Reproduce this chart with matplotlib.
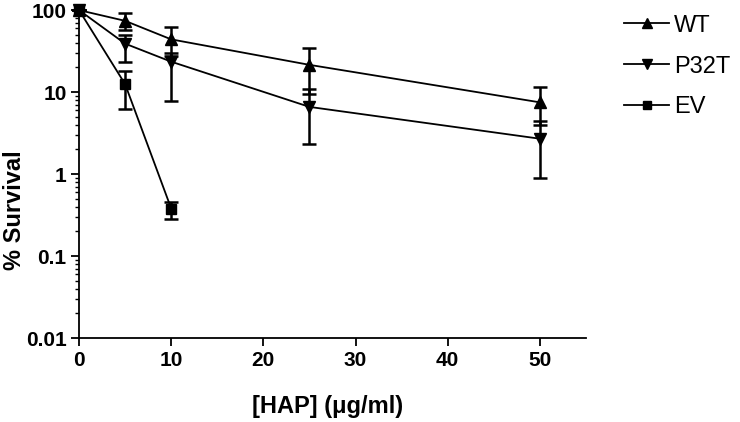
import matplotlib
matplotlib.use("Agg")
import matplotlib.pyplot as plt
import numpy as np

plt.rcParams["font.family"] = ["Liberation Sans", "DejaVu Sans"]

# HAP dose (ug/ml) and % survival
dose = [0, 5, 10, 25, 50]
dose_ev = [0, 5, 10]

wt = [100, 74, 44, 21.5, 7.5]
wt_low = [100, 58, 27.7, 9.4, 4.0]
wt_high = [100, 91, 63, 35, 11.5]

p32t = [100, 39, 23.5, 6.6, 2.7]
p32t_low = [100, 23.5, 7.8, 2.3, 0.9]
p32t_high = [100, 50, 29.7, 10.8, 4.5]

ev = [100, 12.5, 0.38]
ev_low = [100, 6.2, 0.28]
ev_high = [100, 18.2, 0.46]

series = [
    ("WT", dose, wt, wt_low, wt_high, "^", 9),
    ("P32T", dose, p32t, p32t_low, p32t_high, "v", 9),
    ("EV", dose_ev, ev, ev_low, ev_high, "s", 7),
]

fig = plt.figure(figsize=(7.4, 4.22), dpi=100)
ax = fig.add_axes([0.1068, 0.199, 0.685, 0.777])

for label, x, y, lo, hi, marker, ms in series:
    y = np.array(y)
    err = np.vstack([y - np.array(lo), np.array(hi) - y])
    ax.errorbar(x, y, yerr=err, fmt="none", ecolor="black", elinewidth=1.8,
                capsize=5, capthick=1.8, clip_on=False, zorder=3)
    ax.plot(x, y, color="black", linewidth=1.3, marker=marker, markersize=ms,
            label=label, clip_on=False, zorder=4)

ax.set_yscale("log")
ax.set_ylim(0.01, 100)
ax.set_xlim(0, 55)
ax.set_xticks([0, 10, 20, 30, 40, 50])
ax.set_yticks([0.01, 0.1, 1, 10, 100])
ax.set_yticklabels(["0.01", "0.1", "1", "10", "100"])

for side in ("top", "right"):
    ax.spines[side].set_visible(False)
for side in ("left", "bottom"):
    ax.spines[side].set_linewidth(1.3)

ax.tick_params(axis="both", which="major", direction="out", length=6, width=1.3,
               labelsize=15, pad=3)
ax.tick_params(axis="y", which="minor", direction="out", length=3, width=1.0)
for t in ax.get_xticklabels() + ax.get_yticklabels():
    t.set_fontweight("bold")

ax.set_xlabel("[HAP] (\u03bcg/ml)", fontsize=17, fontweight="bold")
ax.set_ylabel("% Survival", fontsize=17, fontweight="bold")
ax.xaxis.set_label_coords(0.49, -0.175)
ax.yaxis.set_label_coords(-0.105, 0.39)

ax.legend(loc="upper left", bbox_to_anchor=(0.818, 1.01), bbox_transform=fig.transFigure,
          frameon=False, fontsize=17, handlelength=1.9, handletextpad=0.2,
          borderpad=0.3, labelspacing=0.8, markerscale=0.8)

fig.savefig("out.png", dpi=100)
